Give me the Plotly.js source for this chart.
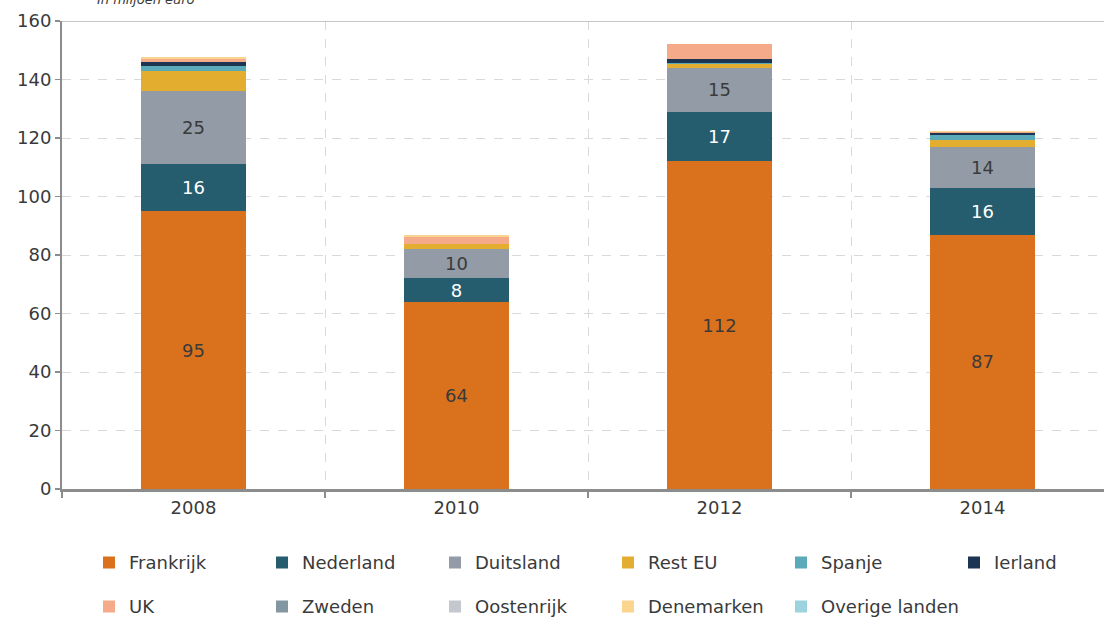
<!DOCTYPE html>
<html>
<head>
<meta charset="utf-8">
<script src="https://cdn.plot.ly/plotly-3.0.1.min.js"></script>
<style>html,body{margin:0;padding:0;background:#fff;}#chart{width:1104px;height:617px;}</style>
</head>
<body>
<div id="chart"></div>
<script>
const years = ["2008", "2010", "2012", "2014"];
const frankrijk = [95, 64, 112, 87];
const nederland = [16, 8, 17, 16];
const duitsland = [25, 10, 15, 14];
const restEU = [7, 1.6, 1.4, 2.3];
const spanje = [1.7, 0, 0.2, 1.8];
const ierland = [1.4, 0, 1.3, 0.6];
const uk = [1, 2.4, 5.1, 0.3];
const zweden = [0, 0, 0, 0];
const oostenrijk = [0, 0, 0, 0];
const denemarken = [0.6, 0.8, 0.3, 0.3];
const overige = [0, 0, 0, 0];
const yTicks = [0, 20, 40, 60, 80, 100, 120, 140, 160];

const FONT = "DejaVu Sans, Verdana, sans-serif";
const TXT = "#3a3a3a";

function series(name, vals, color, legend, labelColor) {
  const t = {
    type: "bar", name: name, x: years, y: vals,
    marker: {color: color, line: {width: 0}},
    legend: legend,
    hoverinfo: "name+y"
  };
  if (labelColor) {
    t.text = vals.map(v => String(v));
    t.textposition = "inside";
    t.insidetextanchor = "middle";
    t.textangle = 0;
    t.textfont = {family: FONT, size: 18, color: labelColor};
  } else {
    t.textposition = "none";
  }
  return t;
}

const data = [
  series("Frankrijk", frankrijk, "#DA721D", "legend", TXT),
  series("Nederland", nederland, "#255C6E", "legend", "#ffffff"),
  series("Duitsland", duitsland, "#939BA6", "legend", TXT),
  series("Rest EU", restEU, "#E3AE30", "legend"),
  series("Spanje", spanje, "#5BAAB9", "legend"),
  series("Ierland", ierland, "#1C3553", "legend"),
  series("UK", uk, "#F5AA8A", "legend2"),
  series("Zweden", zweden, "#8397A3", "legend2"),
  series("Oostenrijk", oostenrijk, "#C3C8CE", "legend2"),
  series("Denemarken", denemarken, "#FBD48E", "legend2"),
  series("Overige landen", overige, "#9DD3DE", "legend3")
];

const legendCommon = {
  orientation: "h", xanchor: "left", yanchor: "top",
  entrywidth: 128, entrywidthmode: "pixels",
  font: {family: FONT, size: 18, color: TXT},
  traceorder: "normal", bgcolor: "rgba(0,0,0,0)", itemclick: false
};
const PW = 1042, PH = 468;

const layout = {
  width: 1104, height: 617,
  margin: {l: 62, r: 0, t: 21, b: 128, autoexpand: false},
  paper_bgcolor: "#ffffff", plot_bgcolor: "#ffffff",
  barmode: "stack", bargap: 0.6,
  font: {family: FONT, size: 16, color: TXT},
  uniformtext: {minsize: 16, mode: "show"},
  xaxis: {
    type: "category", range: [-0.5, 3.462],
    tickson: "boundaries", ticks: "outside", ticklen: 6, tickwidth: 1.5, tickcolor: "#8c8c8c",
    showgrid: true, gridcolor: "#d9d9d9", griddash: "dash", gridwidth: 1,
    showline: true, linecolor: "#8c8c8c", linewidth: 3,
    tickfont: {family: FONT, size: 18, color: TXT},
    automargin: false, fixedrange: true
  },
  yaxis: {
    range: [0, 160], tickvals: yTicks, ticktext: yTicks.map(String),
    ticks: "outside", ticklen: 5, tickcolor: "#8c8c8c", tickwidth: 1.5,
    showgrid: true, gridcolor: "#d9d9d9", griddash: "dash", gridwidth: 1,
    showline: true, linecolor: "#8c8c8c", linewidth: 2,
    zeroline: false,
    tickfont: {family: FONT, size: 18, color: TXT},
    automargin: false, fixedrange: true
  },
  legend: Object.assign({}, legendCommon, {x: (89 - 62) / PW, y: -0.118}),
  legend2: Object.assign({}, legendCommon, {x: (89 - 62) / PW, y: -0.212}),
  legend3: Object.assign({}, legendCommon, {x: (89 + 4 * 173 - 62) / PW, y: -0.212, entrywidth: 170}),
  shapes: [
    {type: "line", xref: "paper", yref: "y", x0: 0, x1: 1, y0: 160, y1: 160,
     line: {color: "#b5b5b5", width: 1.5}}
  ],
  annotations: [
    {text: "<i>In miljoen euro</i>", xref: "paper", yref: "paper",
     x: (95 - 62) / PW, y: 1 + (21 - 9) / PH, xanchor: "left", yanchor: "bottom",
     showarrow: false, font: {family: FONT, size: 13, color: TXT}}
  ]
};

Plotly.newPlot("chart", data, layout, {displayModeBar: false, staticPlot: true});
</script>
</body>
</html>
